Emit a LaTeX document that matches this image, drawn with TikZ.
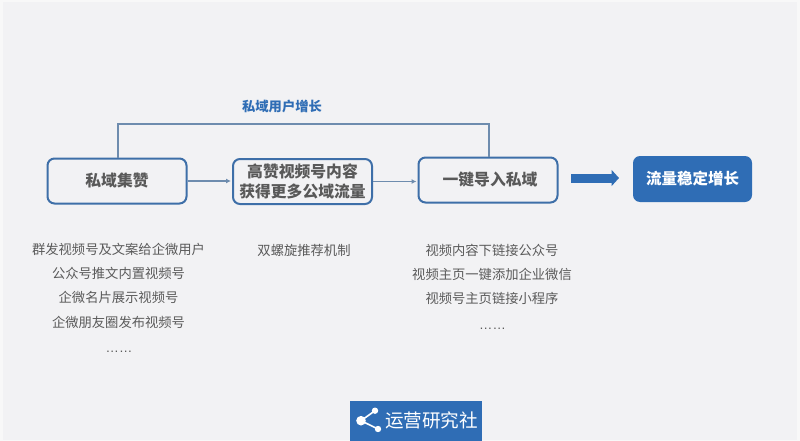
\documentclass[tikz,border=0pt]{standalone}
\usepackage{fontspec}
\setmainfont{Noto Sans CJK SC}
\newfontfamily\latinfont{Liberation Sans}
\usetikzlibrary{arrows.meta}
\definecolor{bgc}{HTML}{F2F2F4}
\definecolor{edgec}{HTML}{F8F8F8}
\definecolor{bluemain}{HTML}{2F6DB5}
\definecolor{blueline}{HTML}{3E6FA8}
\definecolor{greyline}{HTML}{6E8CAE}
\definecolor{titlegrey}{HTML}{595959}
\definecolor{bodygrey}{HTML}{5A5A5A}
\tikzset{
  x=1pt,y=-1pt,
  flowbox/.style={draw=blueline,line width=2pt,rounded corners=7pt,fill=bgc,
    text=titlegrey,font=\fontsize{15.8}{19}\selectfont\bfseries,align=center,
    inner sep=0pt,anchor=center},
  goalbox/.style={fill=bluemain,rounded corners=7pt,text=white,
    font=\fontsize{15.5}{19}\selectfont\bfseries,inner sep=0pt,anchor=center},
  bodytext/.style={text=bodygrey,font=\fontsize{13.3}{16}\selectfont,inner sep=0pt,anchor=center},
  dotstext/.style={text=bodygrey,font=\latinfont\fontsize{13.3}{16}\selectfont,inner sep=0pt,anchor=center},
  thinarrow/.style={draw=greyline,line width=1.4pt,shorten >=1pt,-{Latex[length=5pt,width=5pt]}},
  loopline/.style={draw=greyline,line width=1.3pt},
  fatarrow/.style={draw=bluemain,line width=9pt,-{Triangle[length=7.5pt,width=16pt]}},
}
\begin{document}
\begin{tikzpicture}
\useasboundingbox[fill=edgec] (0,0) rectangle (800,441);
\fill[bgc] (3,2) rectangle (797,440);
% boxes
\node[flowbox,minimum width=139pt,minimum height=45pt] (a) at (117,181) {私域集赞};
\node[flowbox,minimum width=139pt,minimum height=45pt] (b) at (302.5,181.5) {高赞视频号内容\\[1pt]获得更多公域流量};
\node[flowbox,minimum width=139pt,minimum height=45pt] (c) at (488,180) {\hspace*{4pt}一键导入私域};
\node[goalbox,minimum width=119pt,minimum height=46pt] (d) at (692.5,179) {流量稳定增长};
% connectors
\draw[thinarrow] (a.east) -- (a.east -| b.west);
\draw[thinarrow] (b.east) -- (b.east -| c.west);
\coordinate (topl) at (118,124);
\coordinate (topr) at (489,124);
\draw[loopline] (a.north -| topl) -- (topl) -- (topr) -- (c.north -| topr);
\coordinate (fats) at (571,178);
\coordinate (fate) at (619,178);
\draw[fatarrow] (fats) -- (fate);
% label
\node[text=bluemain,font=\fontsize{13.3}{16}\selectfont\bfseries,inner sep=0pt] (lab) at (282,106) {私域用户增长};
% columns
\node[bodytext] (a1) at (118.5,249) {群发视频号及文案给企微用户};
\node[bodytext] (a2) at (118.5,273) {公众号推文内置视频号};
\node[bodytext] (a3) at (118.5,297) {企微名片展示视频号};
\node[bodytext] (a4) at (118.5,322) {企微朋友圈发布视频号};
\node[dotstext] (a5) at (119,352) {……};
\node[bodytext] (b1) at (304,250) {双螺旋推荐机制};
\node[bodytext] (c1) at (492,250) {视频内容下链接公众号};
\node[bodytext] (c2) at (492,274) {视频主页一键添加企业微信};
\node[bodytext] (c3) at (492,298) {视频号主页链接小程序};
\node[dotstext] (c4) at (492.5,329) {……};
% logo
\fill[bluemain] (350,401) rectangle (482,441);
\draw[white,line width=1.6pt] (375,410.7) -- (361,420.7) -- (378,429);
\fill[white] (375,410.7) circle (3.2) (361,420.7) circle (4.8) (378,429) circle (3.2);
\node[text=white,font=\fontsize{18.6}{22}\selectfont,inner sep=0pt] (logo) at (431.5,420.5) {运营研究社};
\end{tikzpicture}
\end{document}
